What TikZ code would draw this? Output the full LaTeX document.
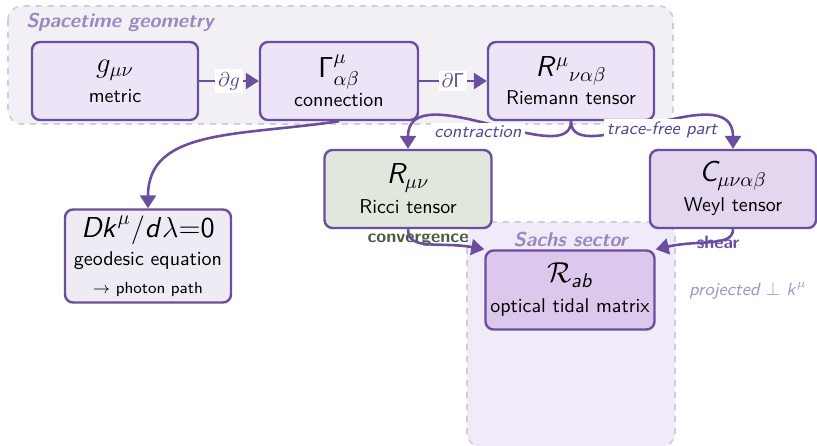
\documentclass[tikz,border=0pt]{standalone}
\usepackage{amsmath,amssymb}
\usepackage{xcolor}
\usepackage{tikz}
\usetikzlibrary{positioning,calc,arrows.meta}
\renewcommand{\familydefault}{\sfdefault}
\DeclareMathAlphabet{\mathsfit}{OT1}{cmss}{m}{sl}

\definecolor{edgeviolet}{HTML}{6B4E9F}
\definecolor{labviolet}{HTML}{5B4790}
\definecolor{grpviolet}{HTML}{9C88BF}
\definecolor{grpline}{HTML}{D2CADF}
\definecolor{geofill}{HTML}{F2F0F5}
\definecolor{sachsfill}{HTML}{F0EAF9}
\definecolor{boxfill}{HTML}{EDE5F7}
\definecolor{riccifill}{HTML}{E0E7DC}
\definecolor{weylfill}{HTML}{E3D6EF}
\definecolor{rabfill}{HTML}{DCC8EC}
\definecolor{pathfill}{HTML}{EFEBF4}
\definecolor{convgreen}{HTML}{4A5C3C}

\tikzset{
  box/.style={draw=edgeviolet, line width=1.2pt, rounded corners=4pt,
    minimum width=83pt, minimum height=39pt, align=center, inner sep=2pt},
  grp/.style={draw=grpline, dashed, line width=0.8pt, rounded corners=7pt},
  grplabel/.style={font=\bfseries, text=grpviolet, inner sep=0pt,
    transform shape, xslant=0.22},
  flow/.style={draw=edgeviolet, line width=1.3pt,
    -{Triangle[width=8pt,length=6.5pt]}},
  lbl/.style={font=\small\itshape, text=labviolet, fill=white, inner sep=1.5pt},
}

\begin{document}
\begin{tikzpicture}[x=0.5pt,y=-0.5pt]
    \useasboundingbox (0,0) rectangle (817,445);
    % Groups
    \draw[grp, fill=geofill] (8,6) rectangle (673,124);
    \node[grplabel, anchor=west] (geomlabel) at (27,22) {Spacetime geometry};
    \draw[grp, fill=sachsfill] (467,222) rectangle (675,447);
    \node[grplabel] (sachslabel) at (572,240) {Sachs sector};
    % Boxes
    \node[box, fill=boxfill] (metric) at (115,81)
        {{\Large$g_{\mu\nu}$}\\[3pt] metric};
    \node[box, fill=boxfill, minimum width=79pt] (conn) at (339,81)
        {{\Large$\mathsf{\Gamma}^{\mu}_{\alpha\beta}$}\\[1pt] connection};
    \node[box, fill=boxfill] (riem) at (571,81)
        {{\Large$\mathsfit{R}^{\mu}{}_{\nu\alpha\beta}$}\\[2pt] Riemann tensor};
    \node[box, fill=riccifill, minimum width=83.5pt] (ricci) at (408,189)
        {{\Large$\mathsfit{R}_{\mu\nu}$}\\[3pt] Ricci tensor};
    \node[box, fill=weylfill] (weyl) at (733,189)
        {{\Large$\mathsfit{C}_{\mu\nu\alpha\beta}$}\\[3pt] Weyl tensor};
    \node[box, fill=pathfill, minimum height=46.5pt] (geo) at (148,256)
        {{\Large$\mathsfit{Dk}^{\mu}/\mathsfit{d}\lambda{=}\mathsf{0}$}\\[2pt] geodesic equation\\[2pt]
         {\footnotesize$\rightarrow$ photon path}};
    \node[box, fill=rabfill, minimum width=84.5pt, minimum height=39.5pt] (rab) at (570,290)
        {{\Large$\mathcal{R}_{\mathsfit{ab}}$}\\[3pt] optical tidal matrix};
    \node[font=\small\itshape, text=grpviolet!90] (proj) at (748,291)
        {projected $\perp$ $\mathsfit{k}^{\mu}$};
    % Labels under the arrows
    \node[font=\small\bfseries, text=convgreen] (conv) at (418,240) {convergence};
    \node[font=\small\bfseries, text=edgeviolet] (shear) at (718,242) {shear};
    % Arrows
    \draw[flow] (metric) -- node[fill=white, inner sep=1.5pt, text=labviolet] {$\partial g$} (conn);
    \draw[flow] (conn) -- node[fill=white, inner sep=1.5pt, text=labviolet] {$\partial\mathsf{\Gamma}$} (riem);
    \draw[flow] (conn.south) .. controls +(-100,15) and +(0,-80) .. (geo.north);
    \draw[flow] (riem.south) .. controls +(0,50) and +(0,-75) .. (ricci.north);
    \draw[flow] (riem.south) .. controls +(0,50) and +(0,-75) .. (weyl.north);
    \node[lbl] (contr) at (478,132) {contraction};
    \node[lbl] (tfree) at (662,130) {trace-free part};
    \draw[flow] (ricci.south) .. controls +(0,22) and +(-45,-8) .. (rab.north west);
    \draw[flow] (weyl.south) .. controls +(0,18) and +(45,-10) .. (rab.north east);
\end{tikzpicture}
\end{document}
